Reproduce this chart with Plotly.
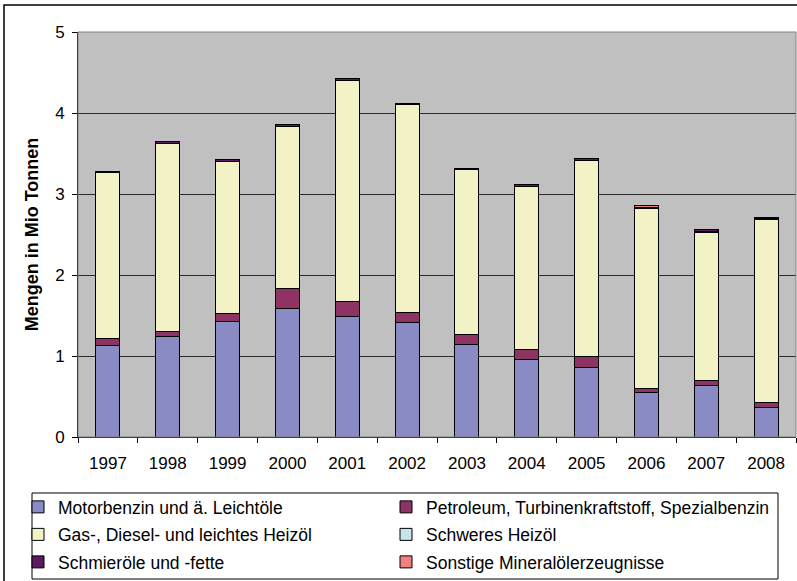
import plotly.graph_objects as go

# Mineralölerzeugnisse, Mengen in Mio Tonnen
years = ["1997", "1998", "1999", "2000", "2001", "2002",
         "2003", "2004", "2005", "2006", "2007", "2008"]

motorbenzin = [1.13, 1.24, 1.43, 1.59, 1.49, 1.41, 1.14, 0.96, 0.86, 0.55, 0.63, 0.37]
petroleum = [0.08, 0.06, 0.10, 0.24, 0.18, 0.13, 0.12, 0.12, 0.13, 0.05, 0.07, 0.05]
gas_diesel = [2.05, 2.32, 1.87, 2.00, 2.73, 2.56, 2.04, 2.01, 2.42, 2.22, 1.83, 2.27]
schweres_heizoel = [0.003] * 12
schmieroele = [0.02, 0.02, 0.02, 0.02, 0.02, 0.02, 0.01, 0.02, 0.02, 0.01, 0.03, 0.02]
sonstige = [0.0, 0.0, 0.0, 0.0, 0.0, 0.0, 0.0, 0.0, 0.0, 0.02, 0.0, 0.0]

series = [
    ("Motorbenzin und ä. Leichtöle", motorbenzin, "#8a8ac4"),
    ("Petroleum, Turbinenkraftstoff, Spezialbenzin", petroleum, "#8e3464"),
    ("Gas-, Diesel- und leichtes Heizöl", gas_diesel, "#f2f2c6"),
    ("Schweres Heizöl", schweres_heizoel, "#c4e6ec"),
    ("Schmieröle und -fette", schmieroele, "#5a1c5c"),
    ("Sonstige Mineralölerzeugnisse", sonstige, "#f08080"),
]

FONT = "Arial, Liberation Sans, sans-serif"
W, H = 797, 581
L, R, T, B = 78, 1, 32, 144
PW, PH = W - L - R, H - T - B


def px_x(px):
    return (px - L) / PW


def px_y(py):
    return (H - B - py) / PH


# legend grid: two columns, three rows (pixel positions of each entry)
col_x = [18, 386]
row_y = [507, 534.5, 562]

fig = go.Figure()
legends = {}
for i, (name, vals, color) in enumerate(series):
    key = "legend" if i == 0 else f"legend{i + 1}"
    fig.add_trace(go.Bar(
        x=years, y=vals, name=name, legend=key, showlegend=True,
        marker=dict(color=color, line=dict(color="black", width=1)),
    ))
    legends[key] = dict(
        orientation="h", xanchor="left", yanchor="middle",
        x=px_x(col_x[i % 2]), y=px_y(row_y[i // 2]),
        bgcolor="rgba(0,0,0,0)", borderwidth=0, visible=True,
        font=dict(family=FONT, size=17.5, color="black"),
    )

fig.update_layout(
    width=W, height=H,
    margin=dict(l=L, r=R, t=T, b=B),
    paper_bgcolor="white", plot_bgcolor="#c0c0c0",
    barmode="stack", bargap=0.6, showlegend=True,
    font=dict(family=FONT, size=17, color="black"),
    xaxis=dict(
        type="category", tickson="boundaries", ticks="outside", ticklen=5,
        tickcolor="black", showline=True, linecolor="black", linewidth=1,
        showgrid=False, ticklabelstandoff=11,
        tickfont=dict(family=FONT, size=17),
    ),
    yaxis=dict(
        range=[0, 5], dtick=1, ticks="outside", ticklen=5, tickcolor="black",
        showline=True, linecolor="black", linewidth=1,
        showgrid=True, gridcolor="#2a2a2a", gridwidth=1, zeroline=False,
        ticklabelstandoff=4,
        tickfont=dict(family=FONT, size=17),
        title=dict(text="Mengen in Mio Tonnen", standoff=11,
                   font=dict(family=FONT, size=18, weight="bold")),
    ),
    shapes=[
        # Rahmen der Zeichenfläche
        dict(type="rect", xref="paper", yref="paper", x0=0, x1=1, y0=0, y1=1,
             line=dict(color="#808080", width=1), layer="above"),
        # Rahmen der Legende
        dict(type="rect", xref="paper", yref="paper",
             x0=px_x(32), x1=px_x(778), y0=px_y(579), y1=px_y(493),
             line=dict(color="black", width=1)),
        # Diagrammrahmen
        dict(type="rect", xref="paper", yref="paper",
             x0=px_x(4), x1=px_x(805), y0=px_y(590), y1=px_y(5),
             line=dict(color="black", width=1.5)),
    ],
)
fig.update_layout(**legends)

fig.write_html("out.html")
